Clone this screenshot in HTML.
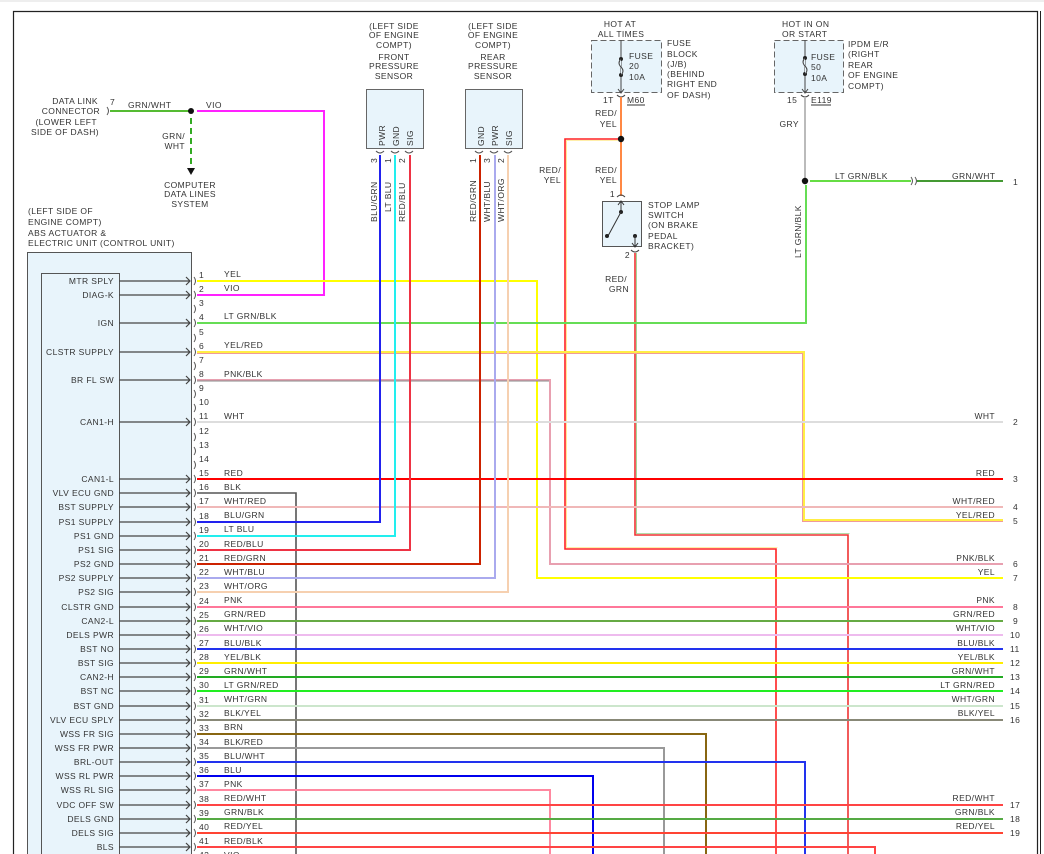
<!DOCTYPE html>
<html><head><meta charset="utf-8"><style>
html,body{margin:0;padding:0;background:#fff}
svg{display:block}
text{font-family:"Liberation Sans",sans-serif;font-size:8.5px;fill:#333;letter-spacing:0.4px}
.r{text-anchor:end}
.m{text-anchor:middle}
</style></head><body>
<svg width="1044" height="854" viewBox="0 0 1044 854" xmlns="http://www.w3.org/2000/svg">
<line x1="0" y1="1" x2="1044" y2="1" stroke="#ddd"/>
<path d="M13.5 854 V11.5 H1037.5 V854" fill="none" stroke="#222" stroke-width="1.2"/>
<line x1="1040.5" y1="11" x2="1040.5" y2="854" stroke="#222"/>

<rect x="27.5" y="252.5" width="164" height="620" fill="#e8f4fb" stroke="#555"/>
<rect x="41.5" y="273.5" width="78" height="600" fill="#e8f4fb" stroke="#555"/>
<text x="28" y="214">(LEFT SIDE OF</text>
<text x="28" y="225">ENGINE COMPT)</text>
<text x="28" y="236">ABS ACTUATOR &amp;</text>
<text x="28" y="246">ELECTRIC UNIT (CONTROL UNIT)</text>

<text x="98" y="104" class="r">DATA LINK</text>
<text x="100" y="114" class="r">CONNECTOR</text>
<text x="97" y="125" class="r">(LOWER LEFT</text>
<text x="99" y="135" class="r">SIDE OF DASH)</text>
<text x="110" y="105">7</text>
<path d="M107 107 q3 4 0 8" fill="none" stroke="#555"/>
<line x1="110" y1="111" x2="193" y2="111" stroke="#55bb33" stroke-width="2"/>
<text x="128" y="108">GRN/WHT</text>
<circle cx="191" cy="111" r="3" fill="#111"/>
<polyline points="197,111 324,111 324,295 197,295" fill="none" stroke="#ff22ff" stroke-width="2"/>
<text x="206" y="108">VIO</text>
<line x1="191" y1="118" x2="191" y2="166" stroke="#33aa22" stroke-width="2" stroke-dasharray="6,4"/>
<path d="M187 168 L195 168 L191 175 Z" fill="#111"/>
<text x="185" y="139" class="r">GRN/</text>
<text x="185" y="149" class="r">WHT</text>
<text x="190" y="188" class="m">COMPUTER</text>
<text x="190" y="197" class="m">DATA LINES</text>
<text x="190" y="207" class="m">SYSTEM</text>

<text x="394" y="29" class="m">(LEFT SIDE</text>
<text x="394" y="38" class="m">OF ENGINE</text>
<text x="394" y="48" class="m">COMPT)</text>
<text x="394" y="60" class="m">FRONT</text>
<text x="394" y="69" class="m">PRESSURE</text>
<text x="394" y="79" class="m">SENSOR</text>
<text x="493" y="29" class="m">(LEFT SIDE</text>
<text x="493" y="38" class="m">OF ENGINE</text>
<text x="493" y="48" class="m">COMPT)</text>
<text x="493" y="60" class="m">REAR</text>
<text x="493" y="69" class="m">PRESSURE</text>
<text x="493" y="79" class="m">SENSOR</text>
<rect x="366.5" y="89.5" width="57" height="59" fill="#e8f4fb" stroke="#666"/>
<rect x="465.5" y="89.5" width="57" height="59" fill="#e8f4fb" stroke="#666"/>
<text transform="translate(385,146) rotate(-90)">PWR</text>
<text transform="translate(399,146) rotate(-90)">GND</text>
<text transform="translate(413,146) rotate(-90)">SIG</text>
<text transform="translate(484,146) rotate(-90)">GND</text>
<text transform="translate(498,146) rotate(-90)">PWR</text>
<text transform="translate(512,146) rotate(-90)">SIG</text>
<path d="M376 151 q4 4 8 0 M391 151 q4 4 8 0 M405 151 q4 4 8 0 M475 151 q4 4 8 0 M490 151 q4 4 8 0 M504 151 q4 4 8 0" fill="none" stroke="#555"/>
<text transform="translate(377,163) rotate(-90)">3</text>
<text transform="translate(391,163) rotate(-90)">1</text>
<text transform="translate(405,163) rotate(-90)">2</text>
<text transform="translate(476,163) rotate(-90)">1</text>
<text transform="translate(490,163) rotate(-90)">3</text>
<text transform="translate(504,163) rotate(-90)">2</text>
<text transform="translate(377,222) rotate(-90)">BLU/GRN</text>
<text transform="translate(391,212) rotate(-90)">LT BLU</text>
<text transform="translate(405,222) rotate(-90)">RED/BLU</text>
<text transform="translate(476,222) rotate(-90)">RED/GRN</text>
<text transform="translate(490,222) rotate(-90)">WHT/BLU</text>
<text transform="translate(504,222) rotate(-90)">WHT/ORG</text>

<text x="620" y="27" class="m">HOT AT</text>
<text x="621" y="37" class="m">ALL TIMES</text>
<rect x="591.5" y="40.5" width="70" height="52" fill="#e8f4fb" stroke="#666" stroke-dasharray="6,3"/>
<line x1="621" y1="40" x2="621" y2="92" stroke="#444"/>
<circle cx="621" cy="59" r="2" fill="#222"/><circle cx="621" cy="75" r="2" fill="#222"/>
<path d="M621 59 q-4 4 0 8 q4 4 0 8" fill="#e8f4fb" stroke="#444"/>
<path d="M618 89 L621 93 L624 89" fill="none" stroke="#444"/>
<path d="M617 95 q4 4 8 0" fill="none" stroke="#444"/>
<text x="629" y="59">FUSE</text><text x="629" y="69">20</text><text x="629" y="80">10A</text>
<text x="667" y="46">FUSE</text><text x="667" y="57">BLOCK</text><text x="667" y="67">(J/B)</text>
<text x="667" y="77">(BEHIND</text><text x="667" y="87">RIGHT END</text><text x="667" y="98">OF DASH)</text>
<text x="603" y="103">1T</text>
<text x="627" y="103">M60</text><line x1="627" y1="105" x2="645" y2="105" stroke="#333"/>
<line x1="621" y1="97" x2="621" y2="196" stroke="#ff8844" stroke-width="2"/>
<text x="617" y="116" class="r">RED/</text><text x="617" y="127" class="r">YEL</text>
<text x="617" y="173" class="r">RED/</text><text x="617" y="183" class="r">YEL</text>
<circle cx="621" cy="139" r="3.2" fill="#111"/>
<polyline points="618,139 565,139 565,549 776,549 776,854" fill="none" stroke="#ff2222" stroke-width="1.6"/>
<polyline points="618,140.5 566.5,140.5 566.5,547.5 777.5,547.5" fill="none" stroke="#ffdd55" stroke-width="0.6"/>
<text x="561" y="173" class="r">RED/</text><text x="561" y="183" class="r">YEL</text>

<path d="M617 197 q4 -4 8 0" fill="none" stroke="#444"/>
<text x="615" y="197" class="r">1</text>
<rect x="602.5" y="201.5" width="39" height="45" fill="#e8f4fb" stroke="#555"/>
<line x1="621" y1="202" x2="621" y2="212" stroke="#333"/>
<path d="M618 205 L621 201 L624 205" fill="none" stroke="#333"/>
<circle cx="621" cy="212" r="2" fill="#222"/>
<line x1="621" y1="212" x2="608" y2="236" stroke="#333"/>
<circle cx="607" cy="236" r="2" fill="#222"/>
<circle cx="635" cy="236" r="2" fill="#222"/>
<line x1="635" y1="236" x2="635" y2="247" stroke="#333"/>
<path d="M632 243 L635 247 L638 243" fill="none" stroke="#333"/>
<path d="M631 250 q4 4 8 0" fill="none" stroke="#444"/>
<text x="630" y="258" class="r">2</text>
<text x="648" y="208">STOP LAMP</text><text x="648" y="218">SWITCH</text><text x="648" y="228">(ON BRAKE</text>
<text x="648" y="239">PEDAL</text><text x="648" y="249">BRACKET)</text>
<text x="627" y="282" class="r">RED/</text><text x="629" y="292" class="r">GRN</text>
<polyline points="635,253 635,535 848,535 848,854" fill="none" stroke="#ee3333" stroke-width="1.6"/>
<polyline points="636.5,253 636.5,533.5 849.5,533.5" fill="none" stroke="#66bb55" stroke-width="0.6"/>

<text x="782" y="27">HOT IN ON</text>
<text x="782" y="37">OR START</text>
<rect x="774.5" y="40.5" width="69" height="52" fill="#e8f4fb" stroke="#666" stroke-dasharray="6,3"/>
<line x1="805" y1="40" x2="805" y2="92" stroke="#444"/>
<circle cx="805" cy="58" r="2" fill="#222"/><circle cx="805" cy="74" r="2" fill="#222"/>
<path d="M805 58 q-4 4 0 8 q4 4 0 8" fill="#e8f4fb" stroke="#444"/>
<path d="M802 89 L805 93 L808 89" fill="none" stroke="#444"/>
<path d="M801 95 q4 4 8 0" fill="none" stroke="#444"/>
<text x="811" y="60">FUSE</text><text x="811" y="70">50</text><text x="811" y="81">10A</text>
<text x="848" y="47">IPDM E/R</text><text x="848" y="57">(RIGHT</text><text x="848" y="68">REAR</text>
<text x="848" y="78">OF ENGINE</text><text x="848" y="89">COMPT)</text>
<text x="787" y="103">15</text>
<text x="811" y="103">E119</text><line x1="811" y1="105" x2="831" y2="105" stroke="#333"/>
<line x1="805" y1="97" x2="805" y2="181" stroke="#bbb" stroke-width="2"/>
<text x="799" y="127" class="r">GRY</text>
<circle cx="805" cy="181" r="3.2" fill="#111"/>
<line x1="810" y1="181" x2="911" y2="181" stroke="#66dd44" stroke-width="2"/>
<path d="M911 177 q3 4 0 8 M915 177 q3 4 0 8" fill="none" stroke="#555"/>
<line x1="917" y1="181" x2="1003" y2="181" stroke="#449933" stroke-width="2"/>
<text x="835" y="179">LT GRN/BLK</text>
<text x="952" y="179">GRN/WHT</text>
<text x="1013" y="185">1</text>
<text transform="translate(801,258) rotate(-90)">LT GRN/BLK</text>

<g fill="none" stroke-width="2">
<polyline points="197,281 537,281 537,578 1003,578" stroke="#ffff00"/>
<polyline points="197,323 806,323 806,185" stroke="#66dd55"/>
<polyline points="197,352 804,352 804,520 1003,520" stroke="#ffee44"/>
<polyline points="197,353.5 802.5,353.5 802.5,521.5 1003,521.5" stroke="#f09a9a" stroke-width="1"/>
<polyline points="197,380 550,380 550,564 1003,564" stroke="#e8a0b0"/>
<polyline points="197,381 549,381" stroke="#888" stroke-width="1"/>
<line x1="197" y1="422" x2="1003" y2="422" stroke="#dddddd"/>
<line x1="197" y1="479" x2="1003" y2="479" stroke="#ff0000"/>
<polyline points="197,493 296,493 296,854" stroke="#555" stroke-width="1.6"/>
<line x1="197" y1="507" x2="1003" y2="507" stroke="#f0b8b8"/>
<polyline points="197,522 380,522 380,155" stroke="#2222ee"/>
<polyline points="197,536 395,536 395,155" stroke="#22eeee"/>
<polyline points="197,550 410,550 410,155" stroke="#ee3344"/>
<polyline points="197,564 480,564 480,155" stroke="#cc2200"/>
<polyline points="197,578 495,578 495,155" stroke="#aaaaee"/>
<polyline points="197,592 508,592 508,155" stroke="#f6d0b0"/>
<line x1="197" y1="607" x2="1003" y2="607" stroke="#ff7799"/>
<line x1="197" y1="621" x2="1003" y2="621" stroke="#66aa44"/>
<line x1="197" y1="635" x2="1003" y2="635" stroke="#eebbee"/>
<line x1="197" y1="649" x2="1003" y2="649" stroke="#2233ee"/>
<line x1="197" y1="663" x2="1003" y2="663" stroke="#ffee00"/>
<line x1="197" y1="677" x2="1003" y2="677" stroke="#22aa22"/>
<line x1="197" y1="691" x2="1003" y2="691" stroke="#22ee22"/>
<line x1="197" y1="706" x2="1003" y2="706" stroke="#cce6cc"/>
<line x1="197" y1="720" x2="1003" y2="720" stroke="#888877"/>
<polyline points="197,734 706,734 706,854" stroke="#886611"/>
<polyline points="197,748 664,748 664,854" stroke="#999"/>
<polyline points="197,762 805,762 805,854" stroke="#2233ee"/>
<polyline points="197,776 593,776 593,854" stroke="#0000ee"/>
<polyline points="197,790 550,790 550,854" stroke="#ff88a0"/>
<line x1="197" y1="805" x2="1003" y2="805" stroke="#ff4444"/>
<line x1="197" y1="819" x2="1003" y2="819" stroke="#55aa44"/>
<line x1="197" y1="833" x2="1003" y2="833" stroke="#ff4433"/>
<polyline points="197,847 875,847 875,854" stroke="#ff4444"/>
</g>

<g stroke="#444" fill="none" stroke-width="1.2">
<path d="M119 281H190M186 277l4 4-4 4M119 295H190M186 291l4 4-4 4M119 323H190M186 319l4 4-4 4M119 352H190M186 348l4 4-4 4M119 380H190M186 376l4 4-4 4M119 422H190M186 418l4 4-4 4M119 479H190M186 475l4 4-4 4M119 493H190M186 489l4 4-4 4M119 507H190M186 503l4 4-4 4M119 522H190M186 518l4 4-4 4M119 536H190M186 532l4 4-4 4M119 550H190M186 546l4 4-4 4M119 564H190M186 560l4 4-4 4M119 578H190M186 574l4 4-4 4M119 592H190M186 588l4 4-4 4M119 607H190M186 603l4 4-4 4M119 621H190M186 617l4 4-4 4M119 635H190M186 631l4 4-4 4M119 649H190M186 645l4 4-4 4M119 663H190M186 659l4 4-4 4M119 677H190M186 673l4 4-4 4M119 691H190M186 687l4 4-4 4M119 706H190M186 702l4 4-4 4M119 720H190M186 716l4 4-4 4M119 734H190M186 730l4 4-4 4M119 748H190M186 744l4 4-4 4M119 762H190M186 758l4 4-4 4M119 776H190M186 772l4 4-4 4M119 790H190M186 786l4 4-4 4M119 805H190M186 801l4 4-4 4M119 819H190M186 815l4 4-4 4M119 833H190M186 829l4 4-4 4M119 847H190M186 843l4 4-4 4"/>
</g>
<g stroke="#555" fill="none">
<path d="M194 277q3 4 0 8M194 291q3 4 0 8M194 305q3 4 0 8M194 319q3 4 0 8M194 334q3 4 0 8M194 348q3 4 0 8M194 362q3 4 0 8M194 376q3 4 0 8M194 390q3 4 0 8M194 404q3 4 0 8M194 418q3 4 0 8M194 433q3 4 0 8M194 447q3 4 0 8M194 461q3 4 0 8M194 475q3 4 0 8M194 489q3 4 0 8M194 503q3 4 0 8M194 518q3 4 0 8M194 532q3 4 0 8M194 546q3 4 0 8M194 560q3 4 0 8M194 574q3 4 0 8M194 588q3 4 0 8M194 603q3 4 0 8M194 617q3 4 0 8M194 631q3 4 0 8M194 645q3 4 0 8M194 659q3 4 0 8M194 673q3 4 0 8M194 687q3 4 0 8M194 702q3 4 0 8M194 716q3 4 0 8M194 730q3 4 0 8M194 744q3 4 0 8M194 758q3 4 0 8M194 772q3 4 0 8M194 786q3 4 0 8M194 801q3 4 0 8M194 815q3 4 0 8M194 829q3 4 0 8M194 843q3 4 0 8"/>
</g>

<g>
<text x="114" y="284" class="r">MTR SPLY</text>
<text x="114" y="298" class="r">DIAG-K</text>
<text x="114" y="326" class="r">IGN</text>
<text x="114" y="355" class="r">CLSTR SUPPLY</text>
<text x="114" y="383" class="r">BR FL SW</text>
<text x="114" y="425" class="r">CAN1-H</text>
<text x="114" y="482" class="r">CAN1-L</text>
<text x="114" y="496" class="r">VLV ECU GND</text>
<text x="114" y="510" class="r">BST SUPPLY</text>
<text x="114" y="525" class="r">PS1 SUPPLY</text>
<text x="114" y="539" class="r">PS1 GND</text>
<text x="114" y="553" class="r">PS1 SIG</text>
<text x="114" y="567" class="r">PS2 GND</text>
<text x="114" y="581" class="r">PS2 SUPPLY</text>
<text x="114" y="595" class="r">PS2 SIG</text>
<text x="114" y="610" class="r">CLSTR GND</text>
<text x="114" y="624" class="r">CAN2-L</text>
<text x="114" y="638" class="r">DELS PWR</text>
<text x="114" y="652" class="r">BST NO</text>
<text x="114" y="666" class="r">BST SIG</text>
<text x="114" y="680" class="r">CAN2-H</text>
<text x="114" y="694" class="r">BST NC</text>
<text x="114" y="709" class="r">BST GND</text>
<text x="114" y="723" class="r">VLV ECU SPLY</text>
<text x="114" y="737" class="r">WSS FR SIG</text>
<text x="114" y="751" class="r">WSS FR PWR</text>
<text x="114" y="765" class="r">BRL-OUT</text>
<text x="114" y="779" class="r">WSS RL PWR</text>
<text x="114" y="793" class="r">WSS RL SIG</text>
<text x="114" y="808" class="r">VDC OFF SW</text>
<text x="114" y="822" class="r">DELS GND</text>
<text x="114" y="836" class="r">DELS SIG</text>
<text x="114" y="850" class="r">BLS</text>
</g>

<g>
<text x="199" y="278">1</text><text x="224" y="277">YEL</text>
<text x="199" y="292">2</text><text x="224" y="291">VIO</text>
<text x="199" y="306">3</text>
<text x="199" y="320">4</text><text x="224" y="319">LT GRN/BLK</text>
<text x="199" y="335">5</text>
<text x="199" y="349">6</text><text x="224" y="348">YEL/RED</text>
<text x="199" y="363">7</text>
<text x="199" y="377">8</text><text x="224" y="377">PNK/BLK</text>
<text x="199" y="391">9</text>
<text x="199" y="405">10</text>
<text x="199" y="419">11</text><text x="224" y="419">WHT</text>
<text x="199" y="434">12</text>
<text x="199" y="448">13</text>
<text x="199" y="462">14</text>
<text x="199" y="476">15</text><text x="224" y="476">RED</text>
<text x="199" y="490">16</text><text x="224" y="490">BLK</text>
<text x="199" y="504">17</text><text x="224" y="504">WHT/RED</text>
<text x="199" y="519">18</text><text x="224" y="518">BLU/GRN</text>
<text x="199" y="533">19</text><text x="224" y="532">LT BLU</text>
<text x="199" y="547">20</text><text x="224" y="547">RED/BLU</text>
<text x="199" y="561">21</text><text x="224" y="561">RED/GRN</text>
<text x="199" y="575">22</text><text x="224" y="575">WHT/BLU</text>
<text x="199" y="589">23</text><text x="224" y="589">WHT/ORG</text>
<text x="199" y="604">24</text><text x="224" y="603">PNK</text>
<text x="199" y="618">25</text><text x="224" y="617">GRN/RED</text>
<text x="199" y="632">26</text><text x="224" y="631">WHT/VIO</text>
<text x="199" y="646">27</text><text x="224" y="646">BLU/BLK</text>
<text x="199" y="660">28</text><text x="224" y="660">YEL/BLK</text>
<text x="199" y="674">29</text><text x="224" y="674">GRN/WHT</text>
<text x="199" y="688">30</text><text x="224" y="688">LT GRN/RED</text>
<text x="199" y="703">31</text><text x="224" y="702">WHT/GRN</text>
<text x="199" y="717">32</text><text x="224" y="716">BLK/YEL</text>
<text x="199" y="731">33</text><text x="224" y="730">BRN</text>
<text x="199" y="745">34</text><text x="224" y="745">BLK/RED</text>
<text x="199" y="759">35</text><text x="224" y="759">BLU/WHT</text>
<text x="199" y="773">36</text><text x="224" y="773">BLU</text>
<text x="199" y="787">37</text><text x="224" y="787">PNK</text>
<text x="199" y="802">38</text><text x="224" y="801">RED/WHT</text>
<text x="199" y="816">39</text><text x="224" y="815">GRN/BLK</text>
<text x="199" y="830">40</text><text x="224" y="829">RED/YEL</text>
<text x="199" y="844">41</text><text x="224" y="844">RED/BLK</text>
<text x="199" y="858">42</text><text x="224" y="858">VIO</text>
</g>

<g>
<text x="995" y="419" class="r">WHT</text><text x="1013" y="425">2</text>
<text x="995" y="476" class="r">RED</text><text x="1013" y="482">3</text>
<text x="995" y="504" class="r">WHT/RED</text><text x="1013" y="510">4</text>
<text x="995" y="518" class="r">YEL/RED</text><text x="1013" y="524">5</text>
<text x="995" y="561" class="r">PNK/BLK</text><text x="1013" y="567">6</text>
<text x="995" y="575" class="r">YEL</text><text x="1013" y="581">7</text>
<text x="995" y="603" class="r">PNK</text><text x="1013" y="610">8</text>
<text x="995" y="617" class="r">GRN/RED</text><text x="1013" y="624">9</text>
<text x="995" y="631" class="r">WHT/VIO</text><text x="1010" y="638">10</text>
<text x="995" y="646" class="r">BLU/BLK</text><text x="1010" y="652">11</text>
<text x="995" y="660" class="r">YEL/BLK</text><text x="1010" y="666">12</text>
<text x="995" y="674" class="r">GRN/WHT</text><text x="1010" y="680">13</text>
<text x="995" y="688" class="r">LT GRN/RED</text><text x="1010" y="694">14</text>
<text x="995" y="702" class="r">WHT/GRN</text><text x="1010" y="709">15</text>
<text x="995" y="716" class="r">BLK/YEL</text><text x="1010" y="723">16</text>
<text x="995" y="801" class="r">RED/WHT</text><text x="1010" y="808">17</text>
<text x="995" y="815" class="r">GRN/BLK</text><text x="1010" y="822">18</text>
<text x="995" y="829" class="r">RED/YEL</text><text x="1010" y="836">19</text>
</g>
</svg>
</body></html>
